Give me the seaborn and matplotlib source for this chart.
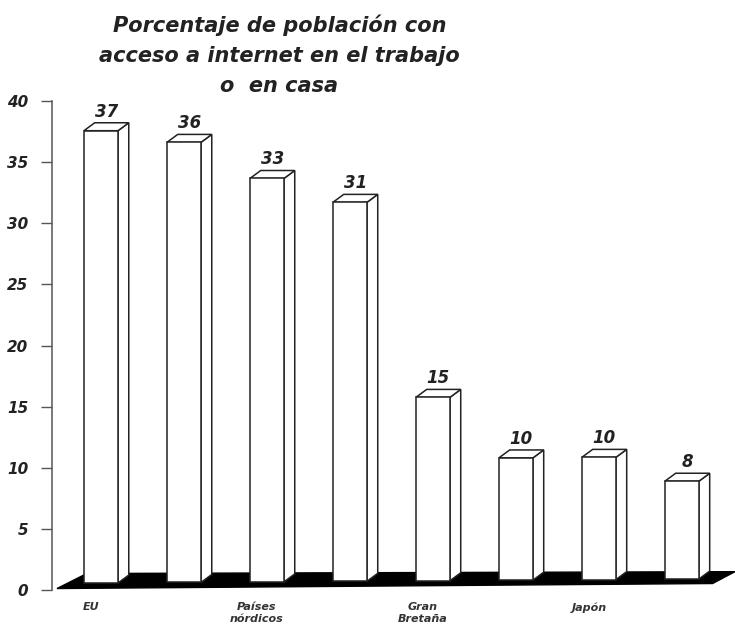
import matplotlib
matplotlib.use("Agg")
import matplotlib.pyplot as plt
import seaborn as sns
import pandas as pd

# ---- data ----
title = "Porcentaje de población con\nacceso a internet en el trabajo\no  en casa"
values = [37, 36, 33, 31, 15, 10, 10, 8]
value_labels = ["37", "36", "33", "31", "15", "10", "10", "8"]
tick_labels = ["EU", "", "Países\nnórdicos", "", "Gran\nBretaña", "", "Japón", ""]
y_ticks = [0, 5, 10, 15, 20, 25, 30, 35, 40]

sns.set_theme(style="white")
plt.rcParams['font.family'] = ['DejaVu Sans']

fig = plt.figure(figsize=(7.35, 6.29), dpi=100)
ax = fig.add_axes([52 / 735, 39 / 629, 683 / 735, 489 / 629])

df = pd.DataFrame({"pos": list(range(len(values))), "value": values})
sns.barplot(data=df, x="pos", y="value", color="white", edgecolor="#222222",
            linewidth=1.1, width=0.41, ax=ax, zorder=4, saturation=1)
bars = list(ax.patches)

# perspective floor (black slab)
floor_x = [-0.53, 7.37, 7.64, -0.17]
floor_y = [0.12, 0.53, 1.5, 1.35]
ax.fill(floor_x, floor_y, color="black", zorder=2, clip_on=False)

# 3D faces
dx, dy = 0.13, 0.65
n = len(values)
for i, p in enumerate(bars):
    base = 0.57 + i * 0.33 / (n - 1)
    p.set_y(base)
    x0 = p.get_x()
    w = p.get_width()
    h = p.get_height()
    top = base + h
    # side face
    ax.fill([x0 + w, x0 + w + dx, x0 + w + dx, x0 + w],
            [base, base + dy, top + dy, top],
            facecolor="white", edgecolor="#222222", linewidth=1.1, zorder=3.5)
    # top face
    ax.fill([x0, x0 + w, x0 + w + dx, x0 + dx],
            [top, top, top + dy, top + dy],
            facecolor="white", edgecolor="#222222", linewidth=1.1, zorder=3.5)
    ax.annotate(value_labels[i], (x0 + w / 2 + dx / 2, top + dy),
                xytext=(0, 1.5), textcoords="offset points",
                ha="center", va="bottom", fontsize=12, fontweight="bold",
                fontstyle="italic", color="#222222", zorder=5)

ax.set_xlim(-0.59, 7.64)
ax.set_ylim(0, 40)
ax.set_yticks(y_ticks)
ax.set_yticklabels([str(t) for t in y_ticks], fontsize=11, fontweight="bold",
                   fontstyle="italic", color="#222222")
ax.set_xticks([i - 0.12 for i in range(n)])
ax.set_xticklabels(tick_labels, fontsize=8, fontweight="bold",
                   fontstyle="italic", color="#333333", linespacing=1.25)
ax.tick_params(axis="y", left=True, length=8, width=1, pad=9,
               direction="out", color="#555555")
ax.tick_params(axis="x", bottom=False, pad=3)
ax.set_xlabel("")
ax.set_ylabel("")

for s in ["top", "right", "bottom"]:
    ax.spines[s].set_visible(False)
ax.spines["left"].set_color("#555555")
ax.spines["left"].set_linewidth(1.1)

fig.text(0.38, 1 - 14 / 629, title, ha="center", va="top", fontsize=15,
         fontweight="bold", fontstyle="italic", color="#222222",
         linespacing=1.65)

fig.savefig("out.png", dpi=100, facecolor="white")
